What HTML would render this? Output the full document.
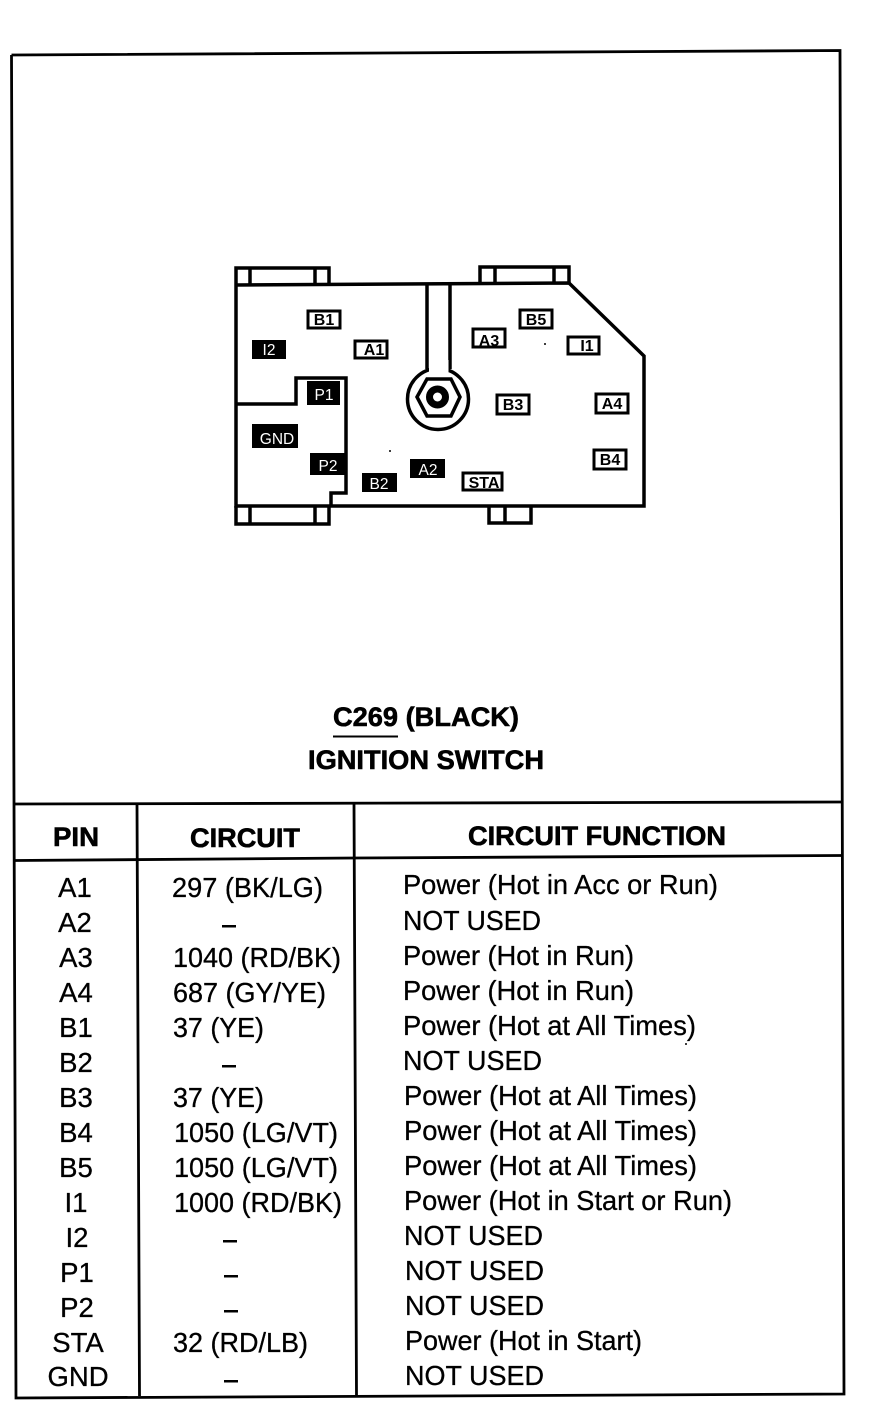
<!DOCTYPE html>
<html><head><meta charset="utf-8"><style>
html,body{margin:0;padding:0;background:#fff;width:876px;height:1408px;overflow:hidden}
svg{display:block}
text{font-family:"Liberation Sans",sans-serif;fill:#000}
.r{font-size:27.500px;stroke:#000;stroke-width:.3}
.h{font-size:27px;font-weight:bold;stroke:#000;stroke-width:.6}
.w{fill:#fff;font-size:15.500px}
.b{font-size:16px;font-weight:bold}
</style></head><body>
<svg width="876" height="1408" viewBox="0 0 876 1408" xmlns="http://www.w3.org/2000/svg">
<rect width="876" height="1408" fill="#fff"/>
<g fill="none" stroke="#000" stroke-width="2.800">
<path d="M11.500 55L840 50.500L844 1394L16 1398L11.500 55"/>
<path d="M14 804L841 802M15 860.500L354 858L842 855.500"/>
<path d="M137 804L139.500 1396M354 803L356.500 1395"/>
</g>
<g stroke="#000" stroke-width="3.500" fill="none">
<path d="M236 285L236 268L329 268L329 285M250 268L250 285M315 268L315 285"/>
<path d="M480 284L480 267L569 267L569 284M495 267L495 284M554 267L554 284"/>
<path d="M236 506L236 524L329 524L329 506M250 506L250 524M315 506L315 524"/>
<path d="M489 506L489 523L531 523L531 506M505 506L505 523"/>
<path d="M236 285L569 283L644 356L644 506L331 506L331 493L346 493L346 378L296 378L296 404L236 404M236 285L236 506L331 506"/>
<path d="M427 283L427 369M450 283L450 369"/>
<circle cx="438" cy="399" r="30.500"/>
<path d="M417 397L427 379L451 379L460 397L451 416L427 416Z"/>
<circle cx="437.500" cy="397" r="8" stroke-width="7"/>
</g>
<rect x="429" y="360" width="19.500" height="12" fill="#fff"/>
<g fill="#000">
<rect x="252" y="340" width="34" height="19"/>
<rect x="307" y="381" width="33" height="24"/>
<rect x="252" y="424" width="46" height="24"/>
<rect x="310" y="453" width="37" height="22"/>
<rect x="362" y="473" width="35" height="19"/>
<rect x="410" y="459" width="35" height="19"/>
</g>
<text class="w" x="269" y="355" text-anchor="middle">I2</text>
<text class="w" x="324" y="400" text-anchor="middle">P1</text>
<text class="w" x="277" y="444" text-anchor="middle">GND</text>
<text class="w" x="328" y="471" text-anchor="middle">P2</text>
<text class="w" x="379" y="489" text-anchor="middle">B2</text>
<text class="w" x="428" y="475" text-anchor="middle">A2</text>
<g fill="#fff" stroke="#000" stroke-width="3">
<rect x="308" y="311" width="32" height="17"/>
<rect x="355" y="341" width="32" height="17"/>
<rect x="473" y="329" width="32" height="18"/>
<rect x="520" y="310" width="32" height="18"/>
<rect x="568" y="337" width="31" height="17"/>
<rect x="497" y="395" width="32" height="19"/>
<rect x="596" y="394" width="32" height="19"/>
<rect x="594" y="450" width="32" height="19"/>
<rect x="463" y="473" width="39" height="17"/>
</g>
<text class="b" x="324" y="325" text-anchor="middle">B1</text>
<text class="b" x="374" y="355" text-anchor="middle">A1</text>
<text class="b" x="489" y="346" text-anchor="middle">A3</text>
<text class="b" x="536" y="325" text-anchor="middle">B5</text>
<text class="b" x="587" y="351" text-anchor="middle">I1</text>
<text class="b" x="513" y="410" text-anchor="middle">B3</text>
<text class="b" x="612" y="409" text-anchor="middle">A4</text>
<text class="b" x="610" y="465" text-anchor="middle">B4</text>
<text class="b" x="484" y="488" text-anchor="middle">STA</text>
<circle cx="390" cy="451" r="1"/><circle cx="545" cy="344" r="1"/><circle cx="686" cy="1044" r="1"/>
<text class="h" x="333" y="726" textLength="186" lengthAdjust="spacingAndGlyphs">C269 (BLACK)</text>
<path d="M333 736.500L398 736.500" stroke="#000" stroke-width="2"/>
<text class="h" x="308" y="769" textLength="236" lengthAdjust="spacingAndGlyphs">IGNITION SWITCH</text>
<text class="h" x="53" y="846" textLength="46" lengthAdjust="spacingAndGlyphs">PIN</text>
<text class="h" x="190" y="847" textLength="110" lengthAdjust="spacingAndGlyphs">CIRCUIT</text>
<text class="h" x="468" y="845" textLength="258" lengthAdjust="spacingAndGlyphs">CIRCUIT FUNCTION</text>
<text class="r" text-anchor="middle" x="75" y="897">A1</text>
<text class="r" text-anchor="middle" x="75" y="932">A2</text>
<text class="r" text-anchor="middle" x="76" y="967">A3</text>
<text class="r" text-anchor="middle" x="76" y="1002">A4</text>
<text class="r" text-anchor="middle" x="76" y="1037">B1</text>
<text class="r" text-anchor="middle" x="76" y="1072">B2</text>
<text class="r" text-anchor="middle" x="76" y="1107">B3</text>
<text class="r" text-anchor="middle" x="76" y="1142">B4</text>
<text class="r" text-anchor="middle" x="76" y="1177">B5</text>
<text class="r" text-anchor="middle" x="76" y="1212">I1</text>
<text class="r" text-anchor="middle" x="77" y="1247">I2</text>
<text class="r" text-anchor="middle" x="77" y="1282">P1</text>
<text class="r" text-anchor="middle" x="77" y="1317">P2</text>
<text class="r" text-anchor="middle" x="78" y="1352">STA</text>
<text class="r" text-anchor="middle" x="78" y="1386">GND</text>
<text class="r" x="172" y="897" textLength="151" lengthAdjust="spacingAndGlyphs">297 (BK/LG)</text>
<text class="r" x="173" y="967" textLength="168" lengthAdjust="spacingAndGlyphs">1040 (RD/BK)</text>
<text class="r" x="173" y="1002" textLength="153" lengthAdjust="spacingAndGlyphs">687 (GY/YE)</text>
<text class="r" x="173" y="1037" textLength="91" lengthAdjust="spacingAndGlyphs">37 (YE)</text>
<text class="r" x="173" y="1107" textLength="91" lengthAdjust="spacingAndGlyphs">37 (YE)</text>
<text class="r" x="174" y="1142" textLength="164" lengthAdjust="spacingAndGlyphs">1050 (LG/VT)</text>
<text class="r" x="174" y="1177" textLength="164" lengthAdjust="spacingAndGlyphs">1050 (LG/VT)</text>
<text class="r" x="174" y="1212" textLength="168" lengthAdjust="spacingAndGlyphs">1000 (RD/BK)</text>
<text class="r" x="173" y="1352" textLength="135" lengthAdjust="spacingAndGlyphs">32 (RD/LB)</text>
<g fill="#000">
<rect x="222" y="925" width="14" height="2.500"/>
<rect x="222" y="1065" width="14" height="2.500"/>
<rect x="223" y="1240" width="14" height="2.500"/>
<rect x="224" y="1275" width="14" height="2.500"/>
<rect x="224" y="1310" width="14" height="2.500"/>
<rect x="224" y="1380" width="14" height="2.500"/>
</g>
<text class="r" x="403" y="894" textLength="315" lengthAdjust="spacingAndGlyphs">Power (Hot in Acc or Run)</text>
<text class="r" x="403" y="930" textLength="138" lengthAdjust="spacingAndGlyphs">NOT USED</text>
<text class="r" x="403" y="965" textLength="231" lengthAdjust="spacingAndGlyphs">Power (Hot in Run)</text>
<text class="r" x="403" y="1000" textLength="231" lengthAdjust="spacingAndGlyphs">Power (Hot in Run)</text>
<text class="r" x="403" y="1035" textLength="293" lengthAdjust="spacingAndGlyphs">Power (Hot at All Times)</text>
<text class="r" x="403" y="1070" textLength="139" lengthAdjust="spacingAndGlyphs">NOT USED</text>
<text class="r" x="404" y="1105" textLength="293" lengthAdjust="spacingAndGlyphs">Power (Hot at All Times)</text>
<text class="r" x="404" y="1140" textLength="293" lengthAdjust="spacingAndGlyphs">Power (Hot at All Times)</text>
<text class="r" x="404" y="1175" textLength="293" lengthAdjust="spacingAndGlyphs">Power (Hot at All Times)</text>
<text class="r" x="404" y="1210" textLength="328" lengthAdjust="spacingAndGlyphs">Power (Hot in Start or Run)</text>
<text class="r" x="404" y="1245" textLength="139" lengthAdjust="spacingAndGlyphs">NOT USED</text>
<text class="r" x="405" y="1280" textLength="139" lengthAdjust="spacingAndGlyphs">NOT USED</text>
<text class="r" x="405" y="1315" textLength="139" lengthAdjust="spacingAndGlyphs">NOT USED</text>
<text class="r" x="405" y="1350" textLength="237" lengthAdjust="spacingAndGlyphs">Power (Hot in Start)</text>
<text class="r" x="405" y="1385" textLength="139" lengthAdjust="spacingAndGlyphs">NOT USED</text>
</svg>
</body></html>
